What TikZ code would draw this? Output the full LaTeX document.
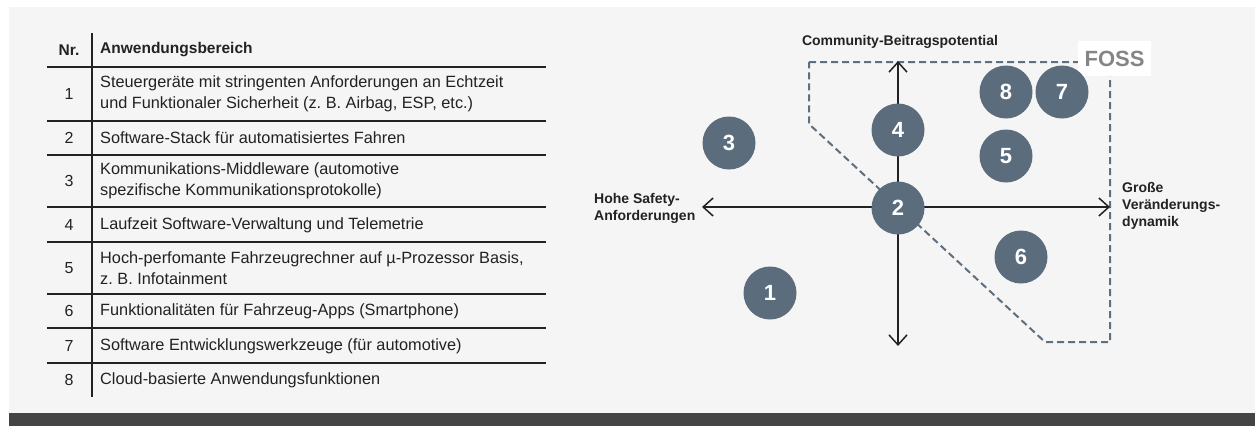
\documentclass[tikz,border=0pt]{standalone}
\usepackage{fontspec}
\setmainfont{Liberation Sans}
\usetikzlibrary{arrows.meta}
\definecolor{panel}{HTML}{F5F5F5}
\definecolor{barc}{HTML}{444444}
\definecolor{ink}{HTML}{222222}
\definecolor{slate}{HTML}{5B6C7D}
\definecolor{dashc}{HTML}{5E6F80}
\definecolor{fossgray}{HTML}{858585}
\frenchspacing
\begin{document}
\begin{tikzpicture}[x=1pt,y=-1pt,
  rule/.style={draw=ink, line width=1.2pt},
  numtxt/.style={font=\fontsize{16}{20}\selectfont, text=ink, anchor=center, inner sep=0pt},
  desc/.style={font=\fontsize{16.3}{20.5}\selectfont, text=ink, anchor=west, align=left, inner sep=0pt},
  hdr/.style={font=\fontsize{15.5}{20}\selectfont\bfseries, text=ink, inner sep=0pt},
  bubble/.style={circle, fill=slate, minimum size=53pt, inner sep=0pt, text=white, font=\fontsize{22}{22}\selectfont\bfseries},
  axis/.style={draw=ink, line width=1.5pt, -{Straight Barb[length=10pt,width=18pt]}},
  axlabel/.style={font=\fontsize{14}{17}\selectfont\bfseries, text=ink, align=left, inner sep=0pt},
  fossline/.style={draw=dashc, line width=2pt, dash pattern=on 7pt off 4pt},
]
\useasboundingbox (0,0) rectangle (1255,426);
\fill[white] (0,0) rectangle (1255,426);
\fill[panel] (9,7) rectangle (1255,413);
\fill[barc] (9,413) rectangle (1255,426);

% table
\draw[rule] (92,33) -- (92,397);
\foreach \yy in {67,121,155,207,242,294,328,363}{\draw[rule] (47,\yy) -- (546,\yy);}
\node[hdr] (hnr) at (69,50) {Nr.};
\node[hdr, anchor=west] (hab) at (100,50) {Anwendungsbereich};
\node[numtxt] (n1) at (69,94) {1};
\node[desc] (d1) at (100,94) {Steuergeräte mit stringenten Anforderungen an Echtzeit\\und Funktionaler Sicherheit (z. B. Airbag, ESP, etc.)};
\node[numtxt] (n2) at (69,138) {2};
\node[desc] (d2) at (100,138) {Software-Stack für automatisiertes Fahren};
\node[numtxt] (n3) at (69,181) {3};
\node[desc] (d3) at (100,181) {Kommunikations-Middleware (automotive\\spezifische Kommunikationsprotokolle)};
\node[numtxt] (n4) at (69,225) {4};
\node[desc] (d4) at (100,225) {Laufzeit Software-Verwaltung und Telemetrie};
\node[numtxt] (n5) at (69,268) {5};
\node[desc] (d5) at (100,268) {Hoch-perfomante Fahrzeugrechner auf µ-Prozessor Basis,\\z. B. Infotainment};
\node[numtxt] (n6) at (69,311) {6};
\node[desc] (d6) at (100,311) {Funktionalitäten für Fahrzeug-Apps (Smartphone)};
\node[numtxt] (n7) at (69,346) {7};
\node[desc] (d7) at (100,346) {Software Entwicklungswerkzeuge (für automotive)};
\node[numtxt] (n8) at (69,380) {8};
\node[desc] (d8) at (100,380) {Cloud-basierte Anwendungsfunktionen};

% chart
\draw[fossline] (809,62) -- (1110,62) -- (1110,342) -- (1045,342) -- (809,124) -- cycle;
\coordinate (o) at (898,207);
\coordinate (atop) at (898,61);
\coordinate (abot) at (898,346);
\coordinate (aleft) at (702,207);
\coordinate (aright) at (1110,207);
\draw[axis] (o) -- (atop);
\draw[axis] (o) -- (abot);
\draw[axis] (o) -- (aleft);
\draw[axis] (o) -- (aright);

\node[fill=white, text=fossgray, font=\fontsize{22}{22}\selectfont\bfseries, minimum width=73pt, minimum height=35pt, inner sep=0pt] (fosslbl) at (1114.5,58.5) {FOSS};

\node[bubble] (b1) at (770,293) {1};
\node[bubble] (b2) at (898,208) {2};
\node[bubble] (b3) at (729,143) {3};
\node[bubble] (b4) at (898,130) {4};
\node[bubble] (b5) at (1006,156) {5};
\node[bubble] (b6) at (1021,257) {6};
\node[bubble] (b7) at (1062,92) {7};
\node[bubble] (b8) at (1006,92) {8};

\node[axlabel, anchor=center] (ltop) at (900,42) {Community-Beitragspotential};
\node[axlabel, anchor=west] (lleft) at (594,208) {Hohe Safety-\\Anforderungen};
\node[axlabel, anchor=west] (lright) at (1122,206) {Große\\Veränderungs-\\dynamik};
\end{tikzpicture}
\end{document}
